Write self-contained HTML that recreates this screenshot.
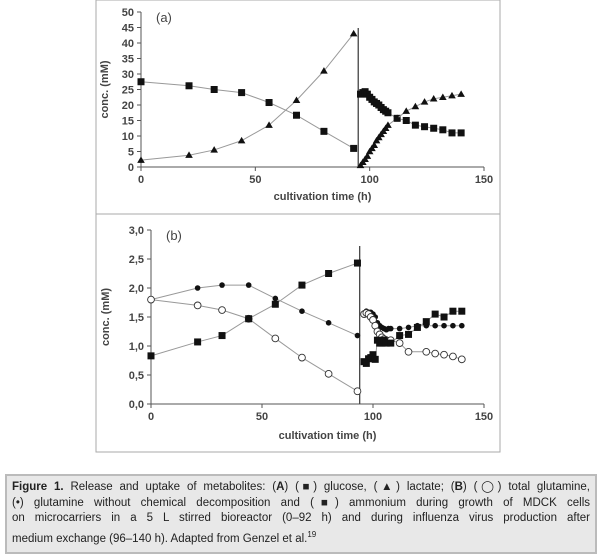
<!DOCTYPE html>
<html><head><meta charset="utf-8"><style>
body{margin:0;background:#fff;width:600px;height:558px;overflow:hidden;font-family:"Liberation Sans",sans-serif}
#cap{position:absolute;left:5px;top:474px;width:578px;height:68px;background:#e8e8e8;border:2px solid #bbb;padding:4px 5px;font-size:11.5px;line-height:15.5px;color:#222;box-sizing:content-box}
#cap span{display:block;text-align:justify;text-align-last:justify;white-space:nowrap}
#cap span.last{text-align-last:left}
</style></head><body>
<svg id="fig" width="600" height="470" style="position:absolute;left:0;top:0" xmlns="http://www.w3.org/2000/svg"></svg>
<div id="cap"><span><b>Figure 1.</b> Release and uptake of metabolites: (<b>A</b>) (■) glucose, (▲) lactate; (<b>B</b>) (◯) total glutamine,</span><span>(•) glutamine without chemical decomposition and (■) ammonium during growth of MDCK cells</span><span>on microcarriers in a 5 L stirred bioreactor (0–92 h) and during influenza virus production after</span><span class="last">medium exchange (96–140 h). Adapted from Genzel et al.<sup style="font-size:8px">19</sup></span></div>
<script>
const glucT1=[0,21,32,44,56,68,80,93], glucV1=[27.5,26.2,25,24,20.8,16.7,11.5,6];
const glucT2=[96,97,98,99,100,101,102,103,104,105,106,107,108,112,116,120,124,128,132,136,140];
const glucV2=[23.5,24,24.3,23.5,22.5,21.8,21,20.5,20,19.2,18.5,18,17.5,15.7,15,13.5,13,12.5,12,11,11];
const lacT1=[0,21,32,44,56,68,80,93], lacV1=[2.2,3.8,5.5,8.5,13.5,21.5,31,43];
const lacT2=[96,97,98,99,100,101,102,103,104,105,106,107,108,112,116,120,124,128,132,136,140];
const lacV2=[0.5,1.5,2.5,3.5,5,6,7,8.5,9.5,10.5,11.5,12.5,13.5,15.7,18,19.5,21,22,22.5,23,23.5];
const glnT1=[0,21,32,44,56,68,80,93], glnV1=[1.8,2.0,2.05,2.05,1.82,1.6,1.4,1.18];
const glnT2=[96,97,98,99,100,101,102,103,104,105,106,107,108,112,116,120,124,128,132,136,140];
const glnV2=[1.57,1.6,1.58,1.58,1.55,1.5,1.4,1.35,1.32,1.3,1.28,1.3,1.3,1.3,1.32,1.35,1.35,1.35,1.35,1.35,1.35];
const totT1=[0,21,32,44,56,68,80,93], totV1=[1.8,1.7,1.62,1.47,1.13,0.8,0.52,0.22];
const totT2=[96,97,98,99,100,101,102,103,104,105,106,108,112,116,124,128,132,136,140];
const totV2=[1.55,1.57,1.55,1.5,1.45,1.35,1.25,1.2,1.15,1.12,1.1,1.1,1.05,0.9,0.9,0.87,0.85,0.82,0.77];
const ammT1=[0,21,32,44,56,68,80,93], ammV1=[0.83,1.07,1.18,1.47,1.72,2.05,2.25,2.43];
const ammT2=[96,97,98,99,100,101,102,103,104,105,106,108,112,116,120,124,128,132,136,140];
const ammV2=[0.73,0.7,0.78,0.8,0.85,0.77,1.1,1.05,1.05,1.1,1.05,1.05,1.18,1.2,1.32,1.42,1.55,1.5,1.6,1.6];
const xTicks=[0,50,100,150];
const yTicksA=[0,5,10,15,20,25,30,35,40,45,50];
const yTicksB=["0,0","0,5","1,0","1,5","2,0","2,5","3,0"];
const NS="http://www.w3.org/2000/svg", svg=document.getElementById('fig');
function el(t,a,p){const e=document.createElementNS(NS,t);for(const k in a)e.setAttribute(k,a[k]);(p||svg).appendChild(e);return e;}
function panel(cfg){
  const g=el('g',{});
  
  
  const r=el('rect',{x:96,y:cfg.top,width:404,height:cfg.h,fill:'none',stroke:'#aaa','stroke-width':1},g);
  
  const X=t=>cfg.x0+(cfg.x1-cfg.x0)*t/150, Y=v=>cfg.y0-(cfg.y0-cfg.y1)*v/cfg.ymax;
  const ax=el('path',{d:`M${cfg.x0},${cfg.y1}V${cfg.y0}H${cfg.x1}`,stroke:'#555',fill:'none','stroke-width':1},g);
  
  xTicks.forEach(t=>{el('line',{x1:X(t),x2:X(t),y1:cfg.y0,y2:cfg.y0+4,stroke:'#555'},g);
    const tx=el('text',{x:X(t),y:cfg.y0+16,'text-anchor':'middle','font-size':11,'font-weight':'bold',fill:'#444'},g);tx.textContent=t;
    });
  cfg.ylabels.forEach((l,i)=>{const v=cfg.ymax*i/(cfg.ylabels.length-1);
    el('line',{x1:cfg.x0-4,x2:cfg.x0,y1:Y(v),y2:Y(v),stroke:'#555'},g);
    const tx=el('text',{x:cfg.x0-7,y:Y(v)+4,'text-anchor':'end','font-size':11,'font-weight':'bold',fill:'#444'},g);tx.textContent=l;
    });
  const xt=el('text',{x:(cfg.x0+cfg.x1)/2+10,y:cfg.y0+cfg.xtOff,'text-anchor':'middle','font-size':11,'font-weight':'bold',fill:'#444'},g);xt.textContent='cultivation time (h)';
  
  const yt=el('text',{x:0,y:0,'text-anchor':'middle','font-size':11,'font-weight':'bold',fill:'#444',transform:`translate(${cfg.ytx},${(cfg.y0+cfg.y1)/2}) rotate(-90)`},g);yt.textContent='conc. (mM)';
  
  const pl=el('text',{x:cfg.x0+15,y:cfg.y1+10,'font-size':13,fill:'#444'},g);pl.textContent=cfg.label;
  
  const vl=el('line',{x1:X(cfg.vt),x2:X(cfg.vt),y1:cfg.y0,y2:cfg.vtop,stroke:'#444','stroke-width':1.3},g);
  
  cfg.series.forEach(s=>{
    [[s.t1,s.v1],[s.t2,s.v2]].forEach(([T,V])=>{
      const ln=el('polyline',{points:T.map((t,i)=>X(t)+','+Y(V[i])).join(' '),fill:'none',stroke:'#999','stroke-width':1},g);
      
      T.forEach((t,i)=>{const x=X(t),y=Y(V[i]);let m;
        if(s.m==='sq')m=el('rect',{x:x-3.5,y:y-3.5,width:7,height:7,fill:'#111'},g);
        else if(s.m==='tri')m=el('polygon',{points:`${x},${y-3.8} ${x-3.8},${y+2.7} ${x+3.8},${y+2.7}`,fill:'#111'},g);
        else if(s.m==='dot')m=el('circle',{cx:x,cy:y,r:2.8,fill:'#111'},g);
        else m=el('circle',{cx:x,cy:y,r:3.4,fill:'#fff',stroke:'#333','stroke-width':0.9},g);
        });
    });
  });
}
panel({name:'panel-a',top:0,h:214,x0:141,x1:484,y0:167,y1:12,ymax:50,ylabels:yTicksA,label:'(a)',vt:95,vtop:28,xtOff:33,ytx:108,
  series:[{name:'glucose',m:'sq',t1:glucT1,v1:glucV1,t2:glucT2,v2:glucV2},{name:'lactate',m:'tri',t1:lacT1,v1:lacV1,t2:lacT2,v2:lacV2}]});
panel({name:'panel-b',top:214,h:238,x0:151,x1:484,y0:404,y1:230,ymax:3,ylabels:yTicksB,label:'(b)',vt:94,vtop:246,xtOff:35,ytx:109,
  series:[{name:'glutamine',m:'dot',t1:glnT1,v1:glnV1,t2:glnT2,v2:glnV2},{name:'total-glutamine',m:'open',t1:totT1,v1:totV1,t2:totT2,v2:totV2},{name:'ammonium',m:'sq',t1:ammT1,v1:ammV1,t2:ammT2,v2:ammV2}]});
</script>
</body></html>
